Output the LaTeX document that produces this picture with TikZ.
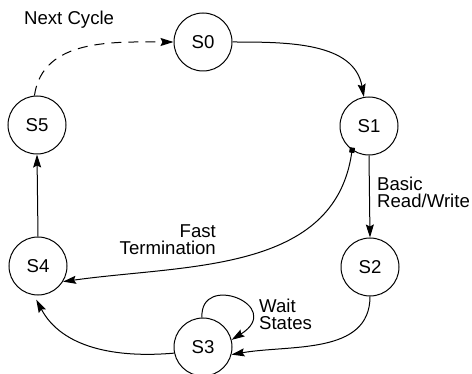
\documentclass[tikz,border=0pt]{standalone}
\usepackage{fontspec}
\setmainfont{Liberation Sans}
\usetikzlibrary{arrows.meta}

\begin{document}
\begin{tikzpicture}[x=0.5pt, y=-0.5pt, line width=0.5pt,
    >={Stealth[length=6.5pt, width=4pt, inset=1pt]},
    every node/.style={font=\fontsize{9.3}{8.6}\selectfont},
    state/.style={draw, circle, minimum size=29pt, inner sep=0pt},
    sqtail/.style={arrows={{Square[length=2.6pt, width=2.6pt, sep=-1.3pt]}->}}]
  \useasboundingbox (0,0) rectangle (472,374);

  % States
  \node[state] (s0) at (203, 42) {S0};
  \node[state] (s1) at (369,126) {S1};
  \node[state] (s2) at (370,267) {S2};
  \node[state] (s3) at (203,347) {S3};
  \node[state] (s4) at (38,266) {S4};
  \node[state] (s5) at (37,125) {S5};

  % Transitions
  \draw[->] (s0.east) to[out=0, in=100] (s1.100);
  \draw[->] (s1.south) -- (s2.north);
  \draw[sqtail] (s1.235) to[out=262, in=8] (s4.-32);
  \draw[->] (s2.south) to[out=270, in=10] (s3.-15);
  \draw[->] (s3.92) to[out=93, in=32, out distance=23pt, in distance=32pt] (s3.14);
  \draw[->, shorten >=2.5pt] (s3.192) to[out=185, in=-62] (s4.262);
  \draw[->] (s4.north) -- (s5.south);
  \draw[->, dash pattern=on 5pt off 3.5pt]
    (s5.95) to[out=82, in=180] (s0.west);

  % Labels
  \node[anchor=base west] (next) at (17,25) {Next Cycle};
  \node[anchor=west, align=left] (basic) at (370,192) {Basic\\Read/Write};
  \node[anchor=east, align=right] (fast) at (223,240) {Fast\\Termination};
  \node[anchor=west, align=left] (wait) at (252,314) {Wait\\States};
\end{tikzpicture}
\end{document}
